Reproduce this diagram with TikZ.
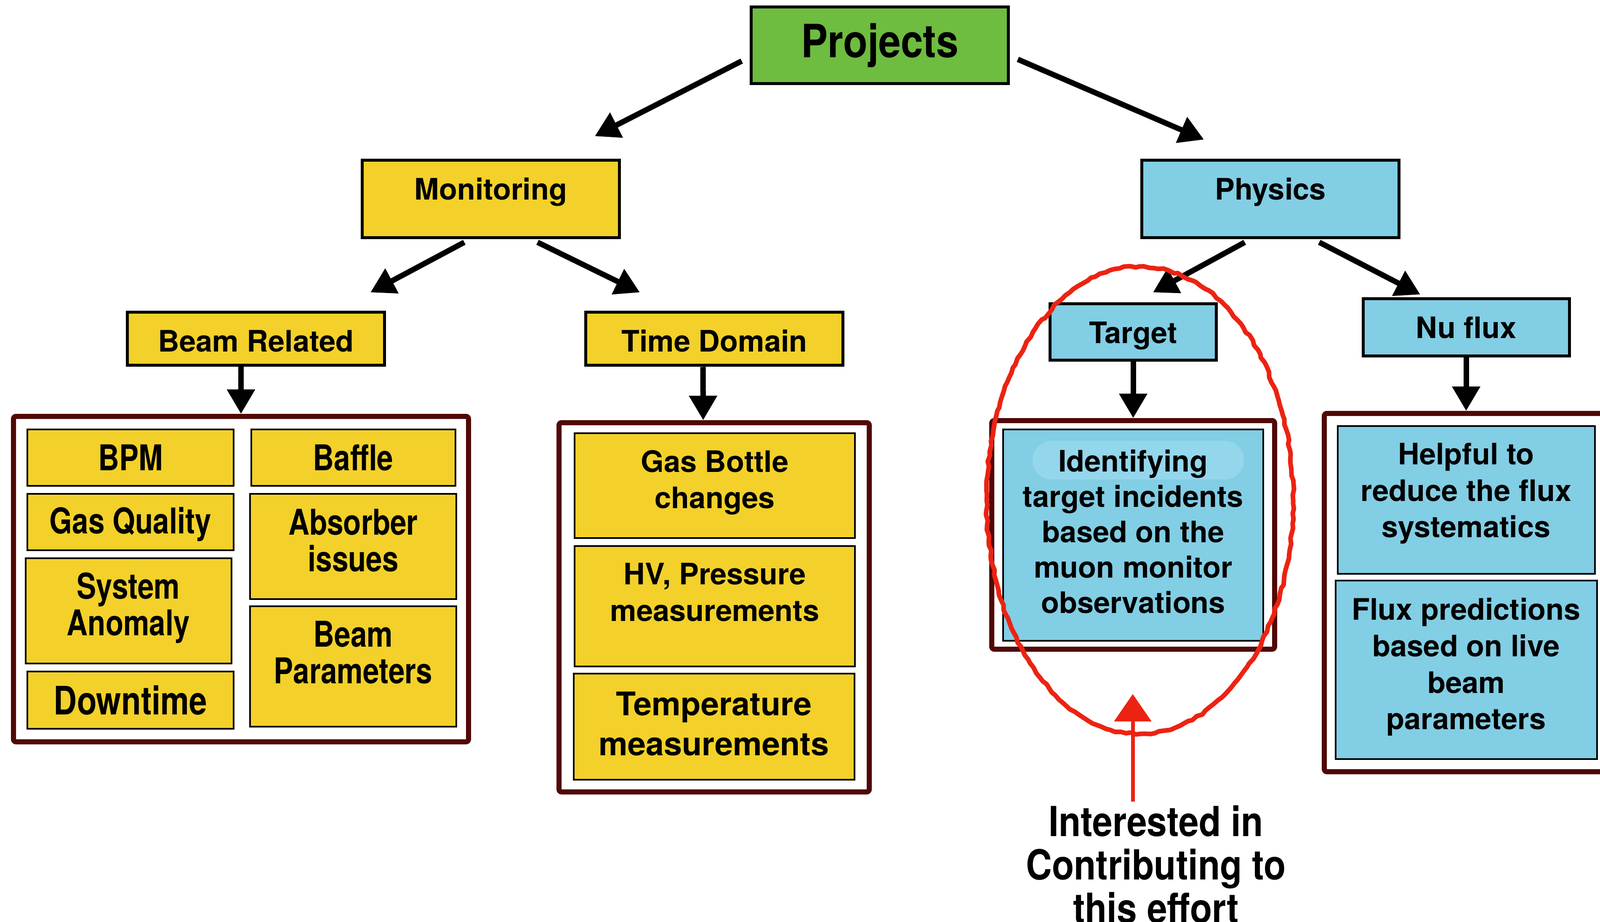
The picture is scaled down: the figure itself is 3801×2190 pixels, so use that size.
\documentclass[tikz,border=0pt]{standalone}
\usepackage{fontspec}
\setmainfont{TeX Gyre Heros}
\newfontfamily\narrowfont[FakeStretch=0.82]{TeX Gyre Heros}
\newfontfamily\halfnarrowfont[FakeStretch=0.87]{TeX Gyre Heros}
\usepackage{tikz}
\usetikzlibrary{arrows.meta,calc,shapes.geometric,decorations.pathmorphing}
\definecolor{projgreen}{HTML}{6EBC40}
\definecolor{monyellow}{HTML}{F3D12A}
\definecolor{physblue}{HTML}{82CEE4}
\definecolor{hiliteblue}{HTML}{94D6EC}
\definecolor{framered}{HTML}{500806}
\definecolor{inkred}{HTML}{EC2312}

\begin{document}
\begin{tikzpicture}[
    x=0.1mm, y=-0.1mm,
    every node/.style={inner sep=0pt, align=center, font=\fontsize{20}{24.7}\selectfont\bfseries},
    head/.style={draw=black, line width=0.7mm, minimum width=61.1mm},
    item/.style={draw=black, line width=0.4mm},
    frame/.style={draw=framered, line width=1.2mm, rounded corners=0.6mm},
    lift/.style={text depth=#1},
    narrowtext/.style={font=\narrowfont\fontsize{24}{24.7}\selectfont\bfseries},
    arr/.style={line width=1.3mm, -{Triangle[length=5.8mm,width=6.4mm]}},
    redarr/.style={draw=inkred, line width=0.9mm, -{Triangle[length=6.5mm,width=8.7mm]}}
]
\useasboundingbox (0,0) rectangle (3801,2190);

% top levels
\node[head, fill=projgreen, minimum height=18.2mm, font=\halfnarrowfont\fontsize{31}{32}\selectfont\bfseries] (proj) at (2090,108) {Projects};
\node[head, fill=monyellow, minimum height=18.4mm, lift=4.9mm] (mon) at (1166,473) {Monitoring};
\node[head, fill=physblue, minimum height=18.4mm, lift=4.9mm] (phys) at (3018,473) {Physics};
\node[head, fill=monyellow, minimum height=12.6mm, text height=6.2mm] (beam) at (608,805) {Beam Related};
\node[head, fill=monyellow, minimum height=12.6mm, text height=6.2mm] (time) at (1697,805) {Time Domain};
\node[head, fill=physblue, minimum width=39.5mm, minimum height=13.4mm, text height=6.8mm] (targ) at (2692,789) {Target};
\node[head, fill=physblue, minimum width=49mm, minimum height=13.6mm] (nuflux) at (3483,778) {Nu flux};

% group frames
\node[frame, minimum width=108.1mm, minimum height=77.3mm] (beamgrp) at (572.5,1375.5) {};
\node[frame, minimum width=73.7mm, minimum height=87.7mm] (timegrp) at (1696.5,1442.5) {};
\node[frame, minimum width=67.2mm, minimum height=54.3mm] (targgrp) at (2692,1270.5) {};
\node[frame, minimum width=70.5mm, minimum height=85.1mm] (nugrp) at (3498.5,1407.5) {};

% beam related
\node[item, fill=monyellow, narrowtext, minimum width=49mm, minimum height=13.4mm] (bpm) at (310,1087) {BPM};
\node[item, fill=monyellow, narrowtext, minimum width=48.5mm, minimum height=13.4mm] (baffle) at (839,1087) {Baffle};
\node[item, fill=monyellow, narrowtext, minimum width=49mm, minimum height=13.4mm, text height=7.4mm] (gasq) at (310,1240) {Gas Quality};
\node[item, fill=monyellow, narrowtext, minimum width=49mm, minimum height=25mm, lift=3mm] (absorb) at (839,1298) {Absorber\\issues};
\node[item, fill=monyellow, narrowtext, minimum width=48.9mm, minimum height=25mm, lift=3.2mm] (anomaly) at (305,1451) {System\\Anomaly};
\node[item, fill=monyellow, narrowtext, minimum width=49mm, minimum height=28.6mm, lift=6.8mm] (beampar) at (839,1583) {Beam\\Parameters};
\node[item, fill=monyellow, minimum width=49mm, minimum height=13.6mm, font=\narrowfont\fontsize{26.5}{27}\selectfont\bfseries] (down) at (310,1663) {Downtime};

% time domain
\node[item, fill=monyellow, minimum width=66.6mm, minimum height=24.9mm, lift=2.9mm] (bottle) at (1698,1153) {Gas Bottle\\changes};
\node[item, fill=monyellow, minimum width=66.6mm, minimum height=28.6mm, lift=6.8mm] (hv) at (1698,1440) {HV, Pressure\\measurements};
\node[item, fill=monyellow, minimum width=66.7mm, minimum height=25.2mm, lift=1.4mm, font=\fontsize{22}{27}\selectfont\bfseries] (temp) at (1696,1726) {Temperature\\measurements};

% physics
\node[item, fill=physblue, minimum width=61.8mm, minimum height=50.2mm, lift=1.8mm, font=\fontsize{20}{23.9}\selectfont\bfseries,
  path picture={\fill[hiliteblue, rounded corners=4.5mm] ($(path picture bounding box.north)+(-239,27)$) rectangle ($(path picture bounding box.north)+(263,119)$);}]
  (ident) at (2692,1271) {Identifying\\target incidents\\based on the\\muon monitor\\observations};
\node[item, fill=physblue, minimum width=61.1mm, minimum height=35.1mm, lift=4.5mm] (helpful) at (3483,1187) {Helpful to\\reduce the flux\\systematics};
\node[item, fill=physblue, minimum width=62.1mm, minimum height=42.4mm, lift=2.9mm] (fluxpred) at (3483,1591) {Flux predictions\\based on live\\beam\\parameters};

% connectors
\draw[arr] ($(proj.west)+(-19,37)$) -- ($(mon.north)+(247,-54)$);
\draw[arr] ($(proj.east)+(19,33)$) -- ($(phys.north)+(-158,-46)$);
\draw[arr] ($(mon.south)+(-63,7)$) -- ($(beam.north)+(272,-44)$);
\draw[arr] ($(mon.south)+(111,7)$) -- ($(time.north)+(-177,-44)$);
\draw[arr] ($(phys.south)+(-61,7)$) -- ($(targ.north)+(47,-24)$);
\draw[arr] ($(phys.south)+(116,7)$) -- ($(nuflux.north)+(-109,-7)$);
\draw[arr] (beam.south -| beamgrp.north) -- (beamgrp.north);
\draw[arr] ($(time.south)+(-27,0)$) -- ($(timegrp.north)+(-26,0)$);
\draw[arr] (targ.south) -- (targgrp.north);
\draw[arr] (nuflux.south) -- (nuflux.south |- nugrp.north);

% annotation
\node[ellipse, draw=inkred, line width=1.1mm, line join=round, minimum width=72.8mm, minimum height=111mm,
  decorate, decoration={random steps, segment length=1.2mm, amplitude=0.25mm}] (ring) at (2708,1188) {};
\node[font=\halfnarrowfont\fontsize{28}{29.3}\selectfont\bfseries] (note) at (2746,2053) {Interested in\\Contributing to\\this effort};
\draw[redarr] ($(note.north)+(-55,-8)$) -- ($(ring.south)+(-17,-100)$);
\end{tikzpicture}
\end{document}
